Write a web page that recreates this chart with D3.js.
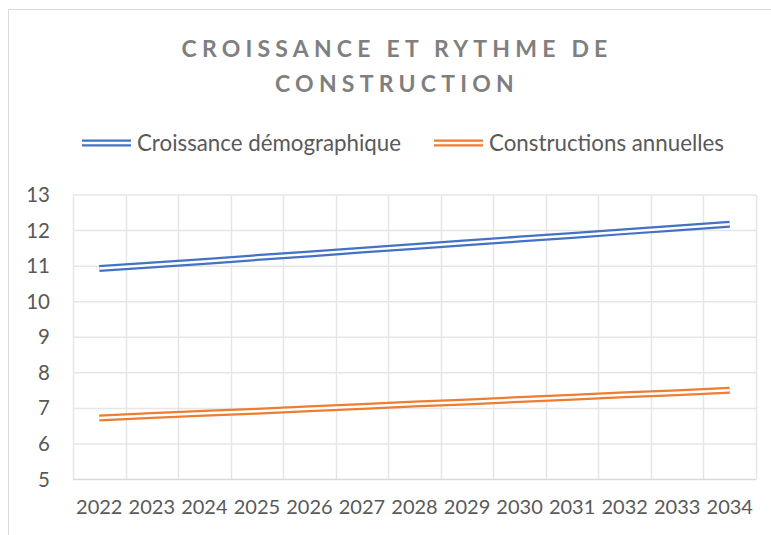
<!DOCTYPE html>
<html>
<head>
<meta charset="utf-8">
<script src="https://cdn.jsdelivr.net/npm/d3@7"></script>
<style>
  body { margin: 0; background: #fff; }
  svg { display: block; }
</style>
</head>
<body>
<div id="chart"></div>
<script>
// data
var years = ["2022", "2023", "2024", "2025", "2026", "2027", "2028",
             "2029", "2030", "2031", "2032", "2033", "2034"];
var croissance = [10.93, 11.03, 11.13, 11.24, 11.34, 11.45, 11.55,
                  11.66, 11.76, 11.86, 11.97, 12.07, 12.18];
var constructions = [6.73, 6.80, 6.86, 6.92, 6.99, 7.05, 7.12,
                     7.18, 7.25, 7.31, 7.38, 7.44, 7.51];
var yTicks = [5, 6, 7, 8, 9, 10, 11, 12, 13];
var seriesNames = ["Croissance démographique", "Constructions annuelles"];
var colors = ["#4472c4", "#ed7d31"];

var width = 771, height = 535;
var margin = {top: 195, right: 15, bottom: 56, left: 73};
var plotW = 756 - margin.left;
var plotH = 479.5 - margin.top;
var font = "Lato, 'Open Sans', sans-serif";

var svg = d3.select("#chart")
  .append("svg")
    .attr("width", width)
    .attr("height", height);

// chart border (only top and left visible)
svg.append("path")
    .attr("d", "M8.5," + height + "V9.5H" + width)
    .attr("fill", "none")
    .attr("stroke", "#d9d9d9")
    .attr("stroke-width", 1);

// title
var title = svg.append("text")
    .attr("text-anchor", "middle")
    .attr("font-family", font)
    .attr("font-weight", "bold")
    .attr("font-size", 23)
    .attr("letter-spacing", 5.2)
    .attr("fill", "#7f7f7f");
title.append("tspan").attr("x", 397).attr("y", 57).text("CROISSANCE ET RYTHME DE");
title.append("tspan").attr("x", 397).attr("y", 92).text("CONSTRUCTION");

var g = svg.append("g")
    .attr("transform", "translate(" + margin.left + "," + margin.top + ")");

var x = d3.scaleBand()
    .domain(years)
    .range([0, plotW]);

var y = d3.scaleLinear()
    .domain([5, 13])
    .range([plotH, 0]);

// vertical gridlines at band edges
var edges = years.map(function(d) { return x(d); }).concat([plotW]);
g.append("g")
  .selectAll("line")
  .data(edges)
  .enter()
  .append("line")
    .attr("x1", function(d) { return Math.round(d) + 0.5; })
    .attr("x2", function(d) { return Math.round(d) + 0.5; })
    .attr("y1", 0)
    .attr("y2", plotH)
    .attr("stroke", "#e6e6e6")
    .attr("stroke-width", 1.5);

// horizontal gridlines
g.append("g")
  .selectAll("line")
  .data(yTicks)
  .enter()
  .append("line")
    .attr("x1", 0)
    .attr("x2", plotW)
    .attr("y1", function(d) { return y(d); })
    .attr("y2", function(d) { return y(d); })
    .attr("stroke", function(d) { return d === 5 ? "#d9d9d9" : "#e6e6e6"; })
    .attr("stroke-width", 1.5);

// y axis labels
var yAxis = g.append("g")
    .call(d3.axisLeft(y).tickValues(yTicks).tickSize(0).tickPadding(23));
yAxis.select(".domain").remove();
yAxis.selectAll("text")
    .attr("font-family", font)
    .attr("font-size", 20.5)
    .attr("fill", "#595959");

// x axis labels
var xAxis = g.append("g")
    .attr("transform", "translate(0," + plotH + ")")
    .call(d3.axisBottom(x).tickSize(0).tickPadding(20));
xAxis.select(".domain").remove();
xAxis.selectAll("text")
    .attr("font-family", font)
    .attr("font-size", 20)
    .attr("fill", "#595959");

// double lines
var line = d3.line()
    .x(function(d, i) { return x(years[i]) + x.bandwidth() / 2; })
    .y(function(d) { return y(d); });

[croissance, constructions].forEach(function(values, k) {
  g.append("path")
      .datum(values)
      .attr("d", line)
      .attr("fill", "none")
      .attr("stroke", colors[k])
      .attr("stroke-width", 7);
  g.append("path")
      .datum(values)
      .attr("d", line)
      .attr("fill", "none")
      .attr("stroke", "#fff")
      .attr("stroke-width", 2.5);
});

// legend
var legendX = [82, 434];
var legendY = 143;
seriesNames.forEach(function(name, k) {
  var lg = svg.append("g").attr("transform", "translate(" + legendX[k] + "," + legendY + ")");
  lg.append("line")
      .attr("x1", 0).attr("x2", 49).attr("y1", 0).attr("y2", 0)
      .attr("stroke", colors[k]).attr("stroke-width", 7);
  lg.append("line")
      .attr("x1", 0).attr("x2", 49).attr("y1", 0).attr("y2", 0)
      .attr("stroke", "#fff").attr("stroke-width", 2.5);
  lg.append("text")
      .attr("x", 55)
      .attr("y", 0)
      .attr("dy", "0.35em")
      .attr("font-family", font)
      .attr("font-size", 22.3)
      .attr("fill", "#595959")
      .text(name);
});
</script>
</body>
</html>
